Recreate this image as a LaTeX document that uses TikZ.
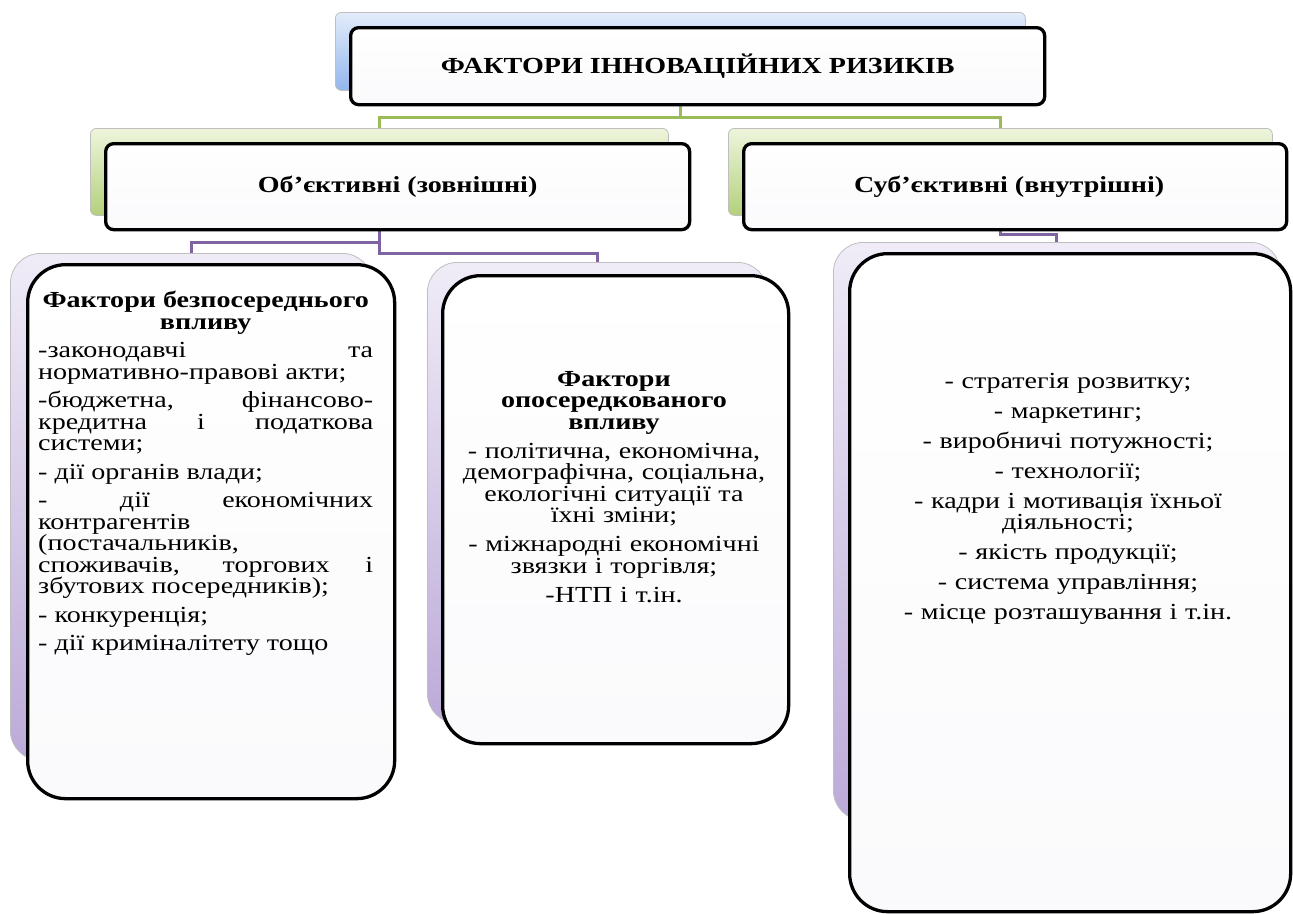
\documentclass[tikz,border=0pt]{standalone}
\usepackage{fontspec}
\setmainfont{Liberation Serif}[FakeStretch=1.22]
\usetikzlibrary{calc}
\definecolor{gline}{HTML}{9BBB59}
\definecolor{pline}{HTML}{8064A2}
\definecolor{blueT}{HTML}{E3ECFA}
\definecolor{blueB}{HTML}{93B6EC}
\definecolor{greenT}{HTML}{EEF5DC}
\definecolor{greenB}{HTML}{B3D07C}
\definecolor{purpT}{HTML}{F0ECF7}
\definecolor{purpB}{HTML}{BBAAD8}
\definecolor{frontB}{HTML}{FAFAFC}
\pgfdeclarelayer{bg}
\pgfsetlayers{bg,main}
\tikzset{
  backbox/.style={draw=black!25, line width=0.8pt, anchor=north west, inner sep=0pt},
  frontbox/.style={draw=black, line width=3.3pt, anchor=north west, inner sep=0pt,
    top color=white, bottom color=frontB},
  bluebk/.style={backbox, top color=blueT, bottom color=blueB},
  greenbk/.style={backbox, top color=greenT, bottom color=greenB},
  purpbk/.style={backbox, top color=purpT, bottom color=purpB},
  gconn/.style={draw=gline, line width=3pt},
  pconn/.style={draw=pline, line width=3pt},
  headtxt/.style={font=\bfseries\fontsize{23}{26}\selectfont},
  bodytxt/.style={inner sep=0pt, anchor=north west,
    font=\fontsize{23}{21.5}\selectfont},
}
\begin{document}
\begin{tikzpicture}[x=1pt,y=-1pt]
\useasboundingbox (0,0) rectangle (1293,913);
% top level
\node[bluebk, rounded corners=6pt, minimum width=690pt, minimum height=78pt] (tb) at (335,12) {};
\node[frontbox, rounded corners=8pt, minimum width=694pt, minimum height=77pt, headtxt] (tf) at (349,26) {ФАКТОРИ ІННОВАЦІЙНИХ РИЗИКІВ};
% second level
\node[greenbk, rounded corners=6pt, minimum width=578pt, minimum height=87pt] (lgb) at (90,128) {};
\node[frontbox, rounded corners=8pt, minimum width=584pt, minimum height=86pt, headtxt] (lgf) at (104,142) {Об’єктивні (зовнішні)};
\node[greenbk, rounded corners=6pt, minimum width=544pt, minimum height=87pt] (rgb) at (728,128) {};
\node[frontbox, rounded corners=8pt, minimum width=543pt, minimum height=86pt, headtxt] (rgf) at (742,142) {Суб’єктивні (внутрішні)\hspace*{12pt}};
% third level
\node[purpbk, rounded corners=30pt, minimum width=362pt, minimum height=507pt] (lpb) at (10,253) {};
\node[frontbox, rounded corners=38pt, minimum width=367pt, minimum height=534pt] (lpf) at (26,263) {};
\node[purpbk, rounded corners=30pt, minimum width=340pt, minimum height=461pt] (mpb) at (427,262) {};
\node[frontbox, rounded corners=38pt, minimum width=346pt, minimum height=468pt] (mpf) at (441,274) {};
\node[purpbk, rounded corners=30pt, minimum width=447pt, minimum height=578pt] (rpb) at (833,242) {};
\node[frontbox, rounded corners=38pt, minimum width=441pt, minimum height=658pt] (rpf) at (848,252) {};
% texts
\node[bodytxt, text width=335pt, align=justify] (lt) at (38,291) {\parindent=0pt\parskip=7pt\hyphenpenalty=10000\exhyphenpenalty=10000\hbadness=10000
{\centering\bfseries\strut Фактори безпосереднього\\впливу\par}
-законодавчі та\linebreak нормативно-правові акти;\par
-бюджетна, фінансово-\linebreak кредитна і податкова\linebreak системи;\par
- дії органів влади;\par
-\ дії економічних\linebreak контрагентів\linebreak (постачальників,\linebreak споживачів, торгових і\linebreak збутових посередників);\par
- конкуренція;\par
- дії криміналітету тощо\par};
\node[bodytxt, text width=340pt, align=center, anchor=north] (mt) at (614,371) {\parindent=0pt\parskip=7.5pt\hyphenpenalty=10000
{\bfseries\strut Фактори\\опосередкованого\\впливу\par}
- політична, економічна,\\демографічна, соціальна,\\екологічні ситуації та\\їхні зміни;\par
- міжнародні економічні\\звязки і торгівля;\par
-НТП і т.ін.\par};
\node[bodytxt, text width=420pt, align=center, anchor=north] (rt) at (1068,373) {\parindent=0pt\parskip=8.5pt\hyphenpenalty=10000
\strut - стратегія розвитку;\par
- маркетинг;\par
- виробничі потужності;\par
- технології;\par
- кадри і мотивація їхньої\\діяльності;\par
- якість продукції;\par
- система управління;\par
- місце розташування і т.ін.\par};
% connectors
\coordinate (lv1) at (0,117);
\coordinate (lvA) at (0,242);
\coordinate (lvB) at (0,253);
\coordinate (lvC) at (0,234);
\begin{pgfonlayer}{bg}
\draw[gconn] (tb.south) -- (tb.south |- lv1) -| (lgb.north);
\draw[gconn] (tb.south |- lv1) -| (rgb.north);
\draw[pconn] (lgb.south) -- (lgb.south |- lvA) -| (lpb.north);
\draw[pconn] (lgb.south |- lvA) -- (lgb.south |- lvB) -| (mpb.north);
\draw[pconn] (rgb.south) -- (rgb.south |- lvC) -| (rpb.north);
\end{pgfonlayer}
\end{tikzpicture}
\end{document}
